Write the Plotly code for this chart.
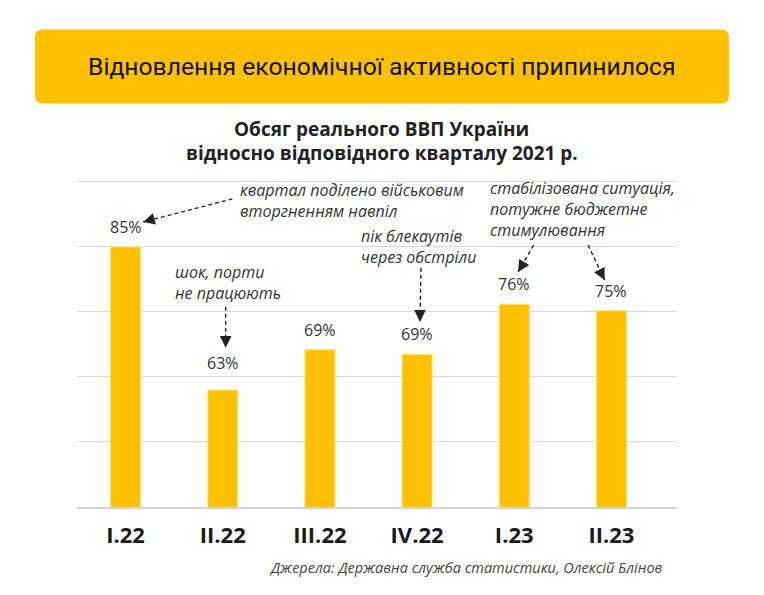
import plotly.graph_objects as go

# дані з графіка
kvartaly = ["I.22", "II.22", "III.22", "IV.22", "I.23", "II.23"]
vvp = [85, 63, 69.2, 68.5, 76.2, 75.2]
pidpysy = ["85%", "63%", "69%", "69%", "76%", "75%"]

zagolovok = "Відновлення економічної активності припинилося"
nazva = ["Обсяг реального ВВП України", "відносно відповідного кварталу 2021 р."]
dzherela = "Джерела: Державна служба статистики, Олексій Блінов"

# коментарі: текст, (x, y) лівого краю тексту
komentari = [
    ("квартал поділено військовим<br>вторгненням навпіл", 1.16, 92.15),
    ("шок, порти<br>не працюють", 0.49, 79.5),
    ("пік блекаутів<br>через обстріли", 2.4, 85.0),
    ("стабілізована ситуація,<br>потужне бюджетне<br>стимулювання", 3.73, 90.8),
]

# стрілки: початок (x, y), вістря (x, y), коротке зміщення хвоста у пікселях
strilky = [
    ((1.1, 92.4), (0.18, 88.85), (11, -3)),
    ((1.03, 75.8), (1.03, 69.5), (0, -11)),
    ((3.04, 81.8), (3.03, 73.5), (0, -11)),
    ((4.2, 85.3), (4.04, 81.15), (6, -10)),
    ((4.76, 85.3), (4.93, 79.9), (-5, -10)),
]

ZHOVTYI = "#FFC000"
SHRYFT = "Open Sans"

fig = go.Figure()
fig.add_trace(go.Bar(
    x=kvartaly,
    y=vvp,
    marker_color=ZHOVTYI,
    marker_line=dict(color="#FFE680", width=1),
    hoverinfo="skip",
))

anotacii = []
for i, (k, v, t) in enumerate(zip(kvartaly, vvp, pidpysy)):
    anotacii.append(dict(
        x=i, y=v, xref="x", yref="y", text=t, showarrow=False,
        yanchor="bottom", yshift=14 if k == "II.22" else 7,
        font=dict(family=SHRYFT, size=16, color="#333333"),
    ))

for tekst, x, y in komentari:
    anotacii.append(dict(
        x=x, y=y, xref="x", yref="y", text=tekst, showarrow=False,
        xanchor="left", yanchor="middle", align="left",
        font=dict(family=SHRYFT, size=16, color="#333333", style="italic"),
    ))

figury = []
for (x0, y0), (x1, y1), (dx, dy) in strilky:
    figury.append(dict(
        type="line", xref="x", yref="y", x0=x0, y0=y0, x1=x1, y1=y1,
        line=dict(color="#222222", width=1.4, dash="4px,3px"),
    ))
    anotacii.append(dict(
        x=x1, y=y1, xref="x", yref="y", ax=dx, ay=dy, text="",
        showarrow=True, arrowhead=2, arrowsize=1.8, arrowwidth=1.3,
        arrowcolor="#222222",
    ))

# жовта плашка із заголовком (заокруглені кути)
x0, x1, y0, y1 = -0.07, 1.0867, 1.234, 1.46
rx, ry = 0.0133, 0.0245
shliakh = (
    f"M {x0 + rx},{y0} L {x1 - rx},{y0} Q {x1},{y0} {x1},{y0 + ry} "
    f"L {x1},{y1 - ry} Q {x1},{y1} {x1 - rx},{y1} "
    f"L {x0 + rx},{y1} Q {x0},{y1} {x0},{y1 - ry} "
    f"L {x0},{y0 + ry} Q {x0},{y0} {x0 + rx},{y0} Z"
)
figury.append(dict(type="path", xref="paper", yref="paper", path=shliakh,
                   fillcolor=ZHOVTYI, line_width=0, layer="below"))

anotacii.append(dict(
    x=0.508, y=1.347, xref="paper", yref="paper", text=zagolovok,
    showarrow=False, xanchor="center", yanchor="middle",
    font=dict(family="Roboto", size=24.7, color="#111111"),
))
for ryadok, y in zip(nazva, [1.155, 1.084]):
    anotacii.append(dict(
        x=0.508, y=y, xref="paper", yref="paper", text="<b>" + ryadok + "</b>",
        showarrow=False, xanchor="center", yanchor="middle",
        font=dict(family=SHRYFT, size=19, color="#222222"),
    ))
anotacii.append(dict(
    x=0.98, y=-0.184, xref="paper", yref="paper", text=dzherela,
    showarrow=False, xanchor="right", yanchor="middle",
    font=dict(family=SHRYFT, size=14.5, color="#444444", style="italic"),
))

fig.update_layout(
    width=756,
    height=587,
    margin=dict(l=69, r=87, t=172, b=88),
    paper_bgcolor="white",
    plot_bgcolor="white",
    showlegend=False,
    bargap=0.69,
    annotations=anotacii,
    shapes=figury,
    xaxis=dict(
        showgrid=False,
        showline=True,
        linecolor="#d4d4d4",
        linewidth=1.5,
        ticks="",
        ticklabelstandoff=8,
        tickfont=dict(family=SHRYFT, size=22, color="#1a1a1a", weight="bold"),
    ),
    yaxis=dict(
        range=[45, 95.3],
        tick0=45,
        dtick=10,
        showgrid=True,
        gridcolor="#d9d9d9",
        gridwidth=1.3,
        zeroline=False,
        showticklabels=False,
    ),
)

fig.write_html("out.html")
